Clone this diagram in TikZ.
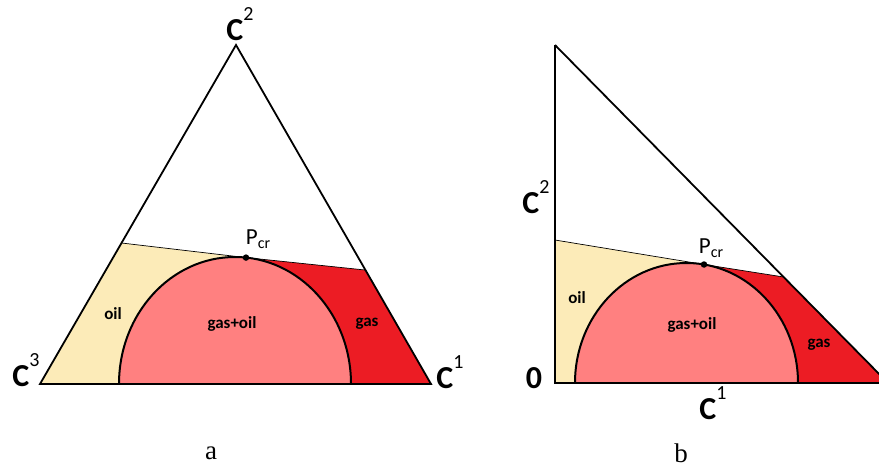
\documentclass[tikz,border=0pt]{standalone}
\usepackage{fontspec}
\setmainfont{Liberation Serif}
\newfontfamily\calfont{Carlito}
\definecolor{oilc}{HTML}{FCEBB8}
\definecolor{mixc}{HTML}{FF8080}
\definecolor{gasc}{HTML}{EC1C24}
\tikzset{
  edge/.style={line width=1.8pt},
  tie/.style={line width=0.7pt},
  arcline/.style={line width=2pt},
  comp/.style={font=\calfont\fontsize{32}{34}\selectfont, inner sep=0pt},
  reg/.style={font=\calfont\bfseries\fontsize{17}{19}\selectfont, inner sep=0pt},
  pcr/.style={font=\calfont\fontsize{23}{25}\selectfont, inner sep=0pt},
  panellabel/.style={font=\fontsize{27}{29}\selectfont, inner sep=0pt},
  dot/.style={circle, fill=black, inner sep=0pt, minimum size=6.5pt}
}
\newcommand{\cmp}[1]{\textbf{C}\raisebox{0.62em}{\fontsize{20}{20}\selectfont #1}}
\begin{document}
\begin{tikzpicture}[x=1pt,y=-1pt]
\useasboundingbox (0,0) rectangle (879,468);
\clip (0,0) rectangle (879,468);
% ---------- panel a ----------
\coordinate (A) at (236,45);
\coordinate (L) at (40,384);
\coordinate (R) at (431,384);
\coordinate (T1) at (121.5,243);
\coordinate (T2) at (365,270);
\coordinate (P1) at (246,257.6);
\coordinate (E1) at (119,384);
\coordinate (E2) at (351,384);
\fill[oilc] (T1) -- (P1) arc[start angle=275.44, end angle=180, x radius=116, y radius=127] -- (L) -- cycle;
\fill[gasc] (P1) -- (T2) -- (R) -- (E2) arc[start angle=360, end angle=275.44, x radius=116, y radius=127] -- cycle;
\fill[mixc] (E1) arc[start angle=180, end angle=360, x radius=116, y radius=127] -- cycle;
\draw[arcline] (E1) arc[start angle=180, end angle=360, x radius=116, y radius=127];
\draw[tie] (T1) -- (P1) -- (T2);
\draw[edge, line join=miter] (L) -- (A) -- (R) -- cycle;
\node[dot] (p1) at (P1) {};
\node[comp] (c2a) at (240,24) {\cmp{2}};
\node[comp] (c3a) at (26,370) {\cmp{3}};
\node[comp] (c1a) at (450,372) {\cmp{1}};
\node[pcr] (pcra) at (258,239) {P\raisebox{-0.35ex}{\fontsize{16}{16}\selectfont cr}};
\node[reg] (oila) at (113,314) {oil};
\node[reg] (mixa) at (232,324) {gas+oil};
\node[reg] (gasa) at (367,324) {gas};
\node[panellabel] (la) at (211,453) {a};
% ---------- panel b ----------
\coordinate (B0) at (555,383);
\coordinate (BT) at (555,45);
\coordinate (BR) at (888,383);
\coordinate (BX) at (879,383);
\coordinate (T3) at (555,240);
\coordinate (P2) at (704,264.5);
\coordinate (T4) at (783.6,277);
\coordinate (F1) at (575,383);
\coordinate (F2) at (798,383);
\fill[oilc] (T3) -- (P2) arc[start angle=279.03, end angle=180, x radius=111.5, y radius=120] -- (B0) -- cycle;
\fill[gasc] (P2) -- (T4) -- (BR) -- (F2) arc[start angle=360, end angle=279.03, x radius=111.5, y radius=120] -- cycle;
\fill[mixc] (F1) arc[start angle=180, end angle=360, x radius=111.5, y radius=120] -- cycle;
\draw[arcline] (F1) arc[start angle=180, end angle=360, x radius=111.5, y radius=120];
\draw[tie] (T3) -- (P2) -- (T4);
\draw[edge] (BT) -- (B0) -- (BX);
\draw[edge] (BT) -- (BR);
\node[dot] (p2) at (P2) {};
\node[comp] (c2b) at (536,197) {\cmp{2}};
\node[comp] (c0b) at (534,378) {\textbf{0}};
\node[comp] (c1b) at (713,403) {\cmp{1}};
\node[pcr] (pcrb) at (711,248) {P\raisebox{-0.35ex}{\fontsize{16}{16}\selectfont cr}};
\node[reg] (oilb) at (577,298) {oil};
\node[reg] (mixb) at (692,325) {gas+oil};
\node[reg] (gasb) at (819,345) {gas};
\node[panellabel] (lb) at (681,453) {b};
\end{tikzpicture}
\end{document}
